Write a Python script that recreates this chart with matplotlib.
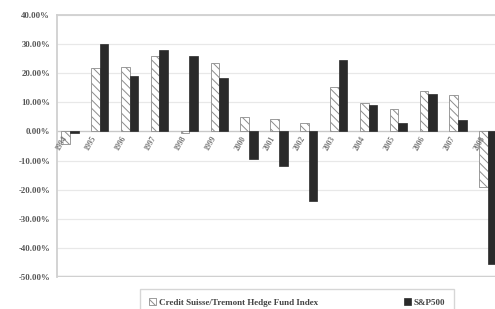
import matplotlib.pyplot as plt
import numpy as np

plt.rcParams['font.family'] = ['Liberation Serif', 'DejaVu Serif']
plt.rcParams['hatch.linewidth'] = 0.7

# annual returns (percent)
years = ['1994', '1995', '1996', '1997', '1998', '1999', '2000', '2001',
         '2002', '2003', '2004', '2005', '2006', '2007', '2008']
hedge_fund = [-4.4, 21.7, 22.2, 25.9, -0.4, 23.4, 4.8, 4.4,
              3.0, 15.4, 9.6, 7.6, 13.9, 12.6, -19.1]
sp500 = [-0.5, 30.0, 19.0, 28.0, 26.0, 18.5, -9.5, -11.7,
         -24.0, 24.5, 9.0, 3.0, 13.0, 4.0, -45.5]
y_ticks = [40, 30, 20, 10, 0, -10, -20, -30, -40, -50]

fig = plt.figure(figsize=(4.95, 3.09), dpi=100)
# right edge runs past the picture, last group is cut off like the original
ax = fig.add_axes([57 / 495, 1 - 277 / 309, 448 / 495, 262 / 309])

x = np.arange(len(years))
w = 0.29
ax.bar(x - w / 2, hedge_fund, w, color='white', edgecolor='#8c8c8c',
       hatch='\\\\\\\\', linewidth=0.6, label='Credit Suisse/Tremont Hedge Fund Index')
ax.bar(x + w / 2, sp500, w, color='#2a2a2a', edgecolor='#2a2a2a',
       linewidth=0.5, label='S&P500')

ax.set_xlim(-0.43, len(years) - 0.43)
ax.set_ylim(-50, 40)
ax.set_yticks(y_ticks)
ax.set_yticklabels([f'{v:.2f}%' for v in y_ticks], fontsize=6.3,
                   color='#555555', fontweight='bold')
ax.tick_params(axis='y', length=0, pad=5)
ax.set_xticks([])

for v in y_ticks:
    ax.axhline(v, color='#e8e8e8', linewidth=0.9, zorder=0)
ax.axhline(0, color='#c8c8c8', linewidth=0.9, zorder=0)
ax.axhline(-50, color='#d0d0d0', linewidth=2.5, zorder=0)

for s in ['top', 'left']:
    ax.spines[s].set_color('#d0d0d0')
    ax.spines[s].set_linewidth(1.3)
for s in ['right', 'bottom']:
    ax.spines[s].set_visible(False)

# year labels sit just under the zero line
for i, yr in enumerate(years):
    ax.text(i - 0.05, -1.2, yr, rotation=60, ha='right', va='top',
            fontsize=5.5, color='#777777', fontweight='bold')

leg = fig.legend(loc='upper center', bbox_to_anchor=(297 / 495, 1 - 289 / 309),
                 ncol=2, fontsize=6.5, frameon=True, fancybox=False,
                 edgecolor='#cccccc', handlelength=0.8, handleheight=0.8,
                 handletextpad=0.3, columnspacing=9.5, borderpad=1.0,
                 borderaxespad=0)
for t in leg.get_texts():
    t.set_color('#444444')
    t.set_fontweight('bold')

fig.savefig('out.png', dpi=100)
